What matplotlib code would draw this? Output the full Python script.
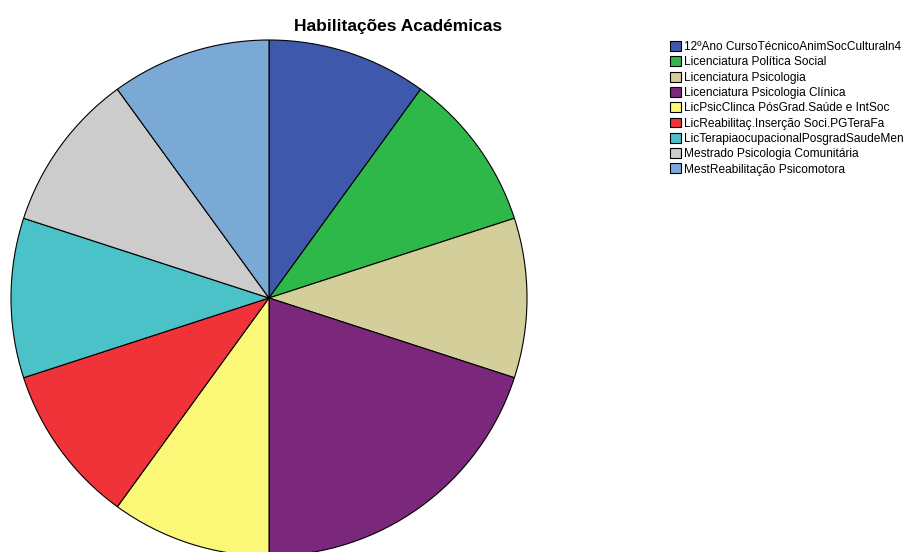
import matplotlib.pyplot as plt
from matplotlib.patches import Patch

categories = [
    "12ºAno CursoTécnicoAnimSocCulturaln4",
    "Licenciatura Política Social",
    "Licenciatura Psicologia",
    "Licenciatura Psicologia Clínica",
    "LicPsicClinca PósGrad.Saúde e IntSoc",
    "LicReabilitaç.Inserção Soci.PGTeraFa",
    "LicTerapiaocupacionalPosgradSaudeMen",
    "Mestrado Psicologia Comunitária",
    "MestReabilitação Psicomotora",
]
counts = [1, 1, 1, 2, 1, 1, 1, 1, 1]
colors = ["#3E58AC", "#2FB84A", "#D4CE9A", "#7B277C", "#FBF777",
          "#EF3339", "#4BC2C8", "#CCCCCC", "#7AA9D6"]

plt.rcParams['font.family'] = ['Liberation Sans', 'DejaVu Sans']

W, H = 905, 552
fig = plt.figure(figsize=(W / 100, H / 100), dpi=100)
ax = fig.add_axes([0, 0, 1, 1])

ax.pie(counts, colors=colors, startangle=90, counterclock=False,
       center=(269, H - 298), radius=258,
       wedgeprops=dict(edgecolor='black', linewidth=0.8))
ax.set_xlim(0, W)
ax.set_ylim(0, H)
ax.set_aspect('equal')
ax.axis('off')

fig.text(398 / W, 1 - 27 / H, "Habilitações Académicas", ha='center', va='center',
         fontsize=12.5, fontweight='bold')

handles = [Patch(facecolor=c, edgecolor='black', linewidth=0.8) for c in colors]
fig.legend(handles, categories, loc='upper left',
           bbox_to_anchor=(670 / W, 1 - 41 / H), frameon=False,
           fontsize=8.6, handlelength=0.9, handleheight=0.9,
           handletextpad=0.25, labelspacing=0.27, borderpad=0, borderaxespad=0)

fig.savefig("out.png", dpi=100)
